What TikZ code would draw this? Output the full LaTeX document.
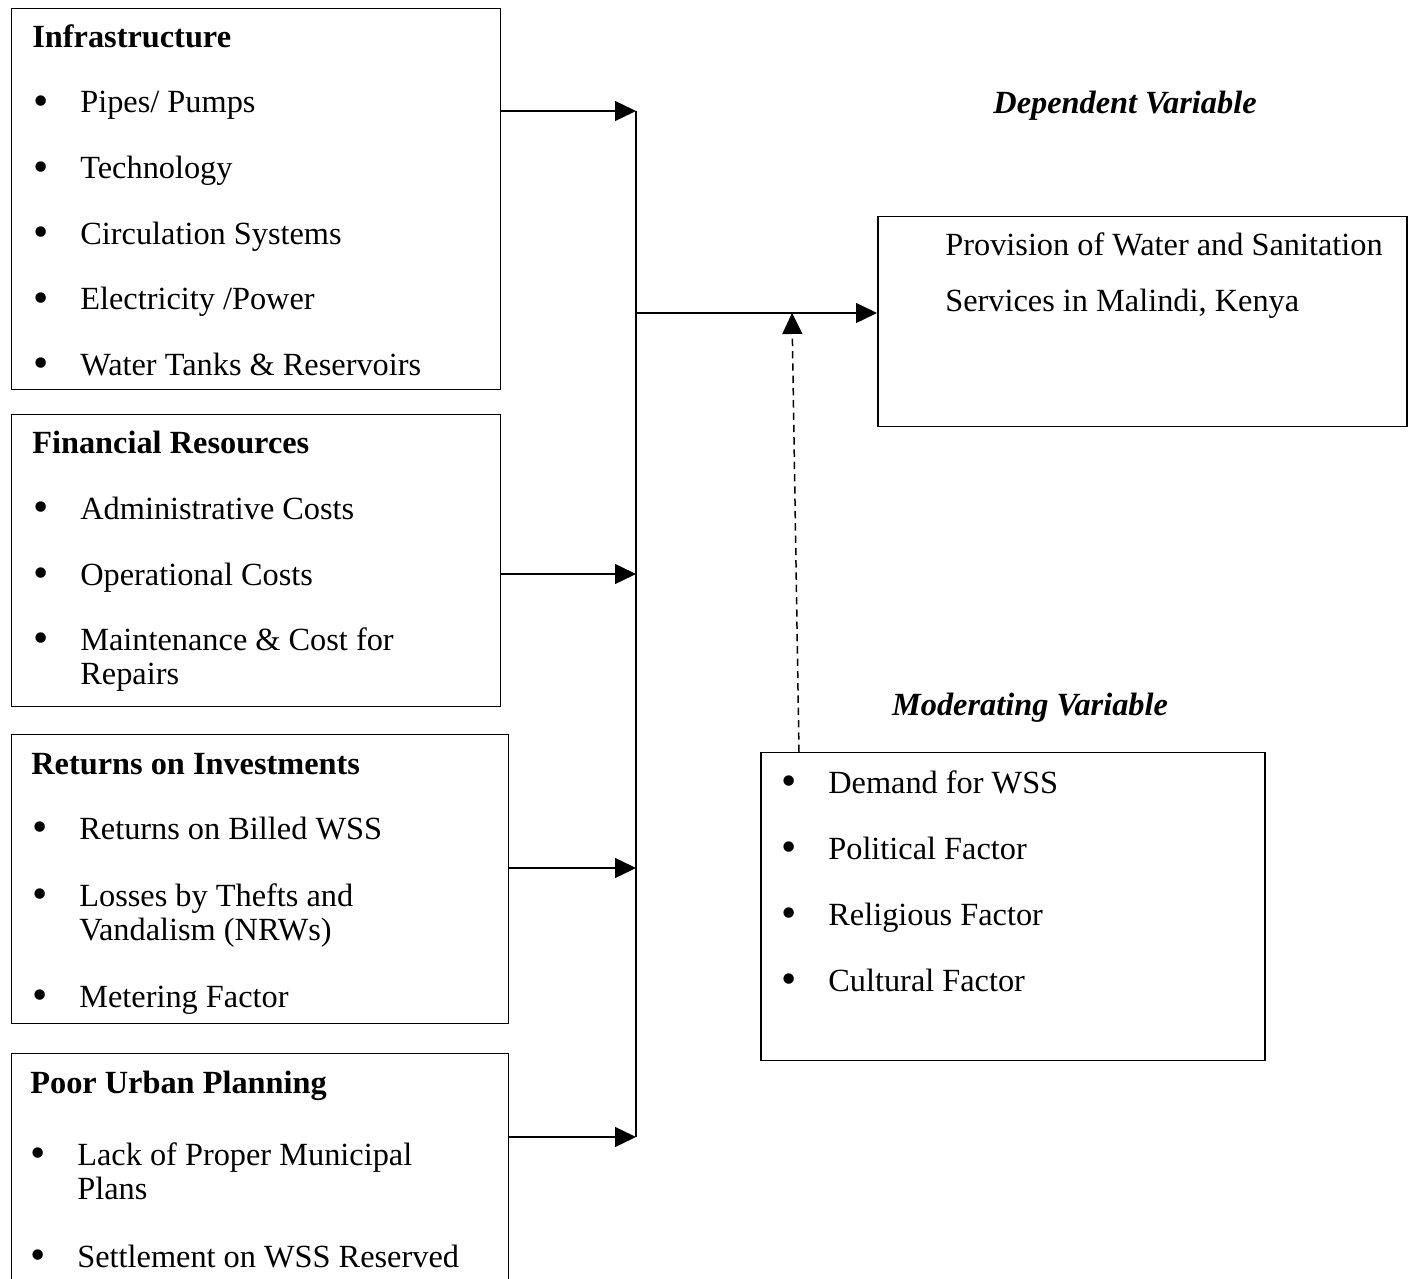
\documentclass[tikz,border=0pt]{standalone}
\usepackage{fontspec}
\setmainfont{Liberation Serif}
\usetikzlibrary{arrows.meta}
\tikzstyle{vbox}=[rectangle,draw=black!100,line width=0.85pt,anchor=north west,inner sep=0pt]
\tikzstyle{vtext}=[anchor=base west,inner sep=0pt]
\tikzstyle{dgraph}=[-{Triangle[length=0.42cm,width=0.4cm]}, line width=0.85pt]
\newcommand{\itm}[1]{\makebox[0.94cm][l]{\raisebox{-0.07em}{\scalebox{1.35}{\textbullet}}}\begin{tabular}[t]{@{}l@{}}#1\end{tabular}}

\begin{document}
\begin{tikzpicture}[font=\fontsize{18.4}{19.9}\selectfont]
\clip (0,0) rectangle (28.22,-25.58);
% boxes
\node[vbox,minimum width=9.78cm,minimum height=7.62cm] (infra) at (0.22,-0.16) {};
\node[vbox,minimum width=9.78cm,minimum height=5.84cm] (fin) at (0.22,-8.28) {};
\node[vbox,minimum width=9.94cm,minimum height=5.78cm] (roi) at (0.22,-14.68) {};
\node[vbox,minimum width=9.94cm,minimum height=5.6cm] (plan) at (0.22,-21.06) {};
\node[vbox,minimum width=10.58cm,minimum height=4.2cm] (dv) at (17.54,-4.32) {};
\node[vbox,minimum width=10.08cm,minimum height=6.16cm] (mv) at (15.2,-15.04) {};
% independent variables
\node[vtext] (infraT) at (0.64,-0.96) {\textbf{Infrastructure}};
\node[vtext] (infra1) at (0.66,-2.26) {\itm{Pipes/ Pumps}};
\node[vtext] (infra2) at (0.66,-3.58) {\itm{Technology}};
\node[vtext] (infra3) at (0.66,-4.89) {\itm{Circulation Systems}};
\node[vtext] (infra4) at (0.66,-6.20) {\itm{Electricity /Power}};
\node[vtext] (infra5) at (0.66,-7.51) {\itm{Water Tanks \& Reservoirs}};
\node[vtext] (finT) at (0.64,-9.06) {\textbf{Financial Resources}};
\node[vtext] (fin1) at (0.66,-10.38) {\itm{Administrative Costs}};
\node[vtext] (fin2) at (0.66,-11.70) {\itm{Operational Costs}};
\node[vtext] (fin3) at (0.66,-13.00) {\itm{Maintenance \& Cost for\\Repairs}};
\node[vtext] (roiT) at (0.62,-15.48) {\textbf{Returns on Investments}};
\node[vtext] (roi1) at (0.64,-16.78) {\itm{Returns on Billed WSS}};
\node[vtext] (roi2) at (0.64,-18.12) {\itm{Losses by Thefts and\\Vandalism (NRWs)}};
\node[vtext] (roi3) at (0.64,-20.14) {\itm{Metering Factor}};
\node[vtext] (planT) at (0.60,-21.86) {\textbf{Poor Urban Planning}};
\node[vtext] (plan1) at (0.60,-23.30) {\itm{Lack of Proper Municipal\\Plans}};
\node[vtext] (plan2) at (0.60,-25.34) {\itm{Settlement on WSS Reserved}};
% dependent and moderating variables
\node[anchor=base,inner sep=0pt] (dvT) at (22.5,-2.28) {\textbf{\textit{Dependent Variable}}};
\node[vtext] (dv1) at (18.9,-5.12) {\begin{tabular}[t]{@{}l@{}}Provision of Water and Sanitation\\[11.4pt]Services in Malindi, Kenya\end{tabular}};
\node[anchor=base,inner sep=0pt] (mvT) at (20.6,-14.30) {\textbf{\textit{Moderating Variable}}};
\node[vtext] (mv1) at (15.62,-15.86) {\itm{Demand for WSS}};
\node[vtext] (mv2) at (15.62,-17.18) {\itm{Political Factor}};
\node[vtext] (mv3) at (15.62,-18.50) {\itm{Religious Factor}};
\node[vtext] (mv4) at (15.62,-19.82) {\itm{Cultural Factor}};
% connectors
\coordinate (j1) at (12.72,-2.22);
\coordinate (j2) at (12.72,-11.48);
\coordinate (j3) at (12.72,-17.36);
\coordinate (j4) at (12.72,-22.74);
\coordinate (hub) at (12.72,-6.26);
\coordinate (m) at (15.84,-6.26);
\draw[line width=0.85pt](j1)--(j4);
\draw[dgraph](infra.east |- j1)--(j1);\draw[dgraph](fin.east |- j2)--(j2);
\draw[dgraph](roi.east |- j3)--(j3);\draw[dgraph](plan.east |- j4)--(j4);
\draw[dgraph](hub)--(dv.west |- hub);
\draw[dgraph,dash pattern=on 4.2pt off 2.8pt]([xshift=0.78cm]mv.north west)--(m);
\end{tikzpicture}
\end{document}
